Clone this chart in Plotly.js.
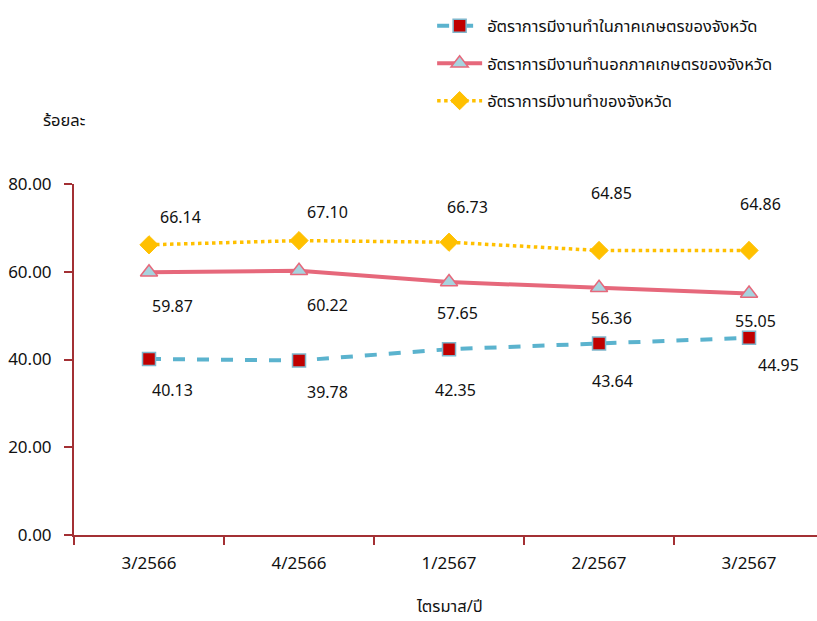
<!DOCTYPE html>
<html>
<head>
<meta charset="utf-8">
<script src="https://cdn.plot.ly/plotly-3.0.1.min.js"></script>
<style>html,body{margin:0;padding:0;background:#fff;}#chart{width:817px;height:621px;}</style>
</head>
<body>
<div id="chart"></div>
<script>
const categories = ["3/2566", "4/2566", "1/2567", "2/2567", "3/2567"];
const agriRate = [40.13, 39.78, 42.35, 43.64, 44.95];
const nonAgriRate = [59.87, 60.22, 57.65, 56.36, 55.05];
const totalRate = [66.14, 67.10, 66.73, 64.85, 64.86];
const seriesNames = [
  "อัตราการมีงานทำในภาคเกษตรของจังหวัด",
  "อัตราการมีงานทำนอกภาคเกษตรของจังหวัด",
  "อัตราการมีงานทำของจังหวัด"
];
const yTitle = "ร้อยละ";
const xTitle = "ไตรมาส/ปี";

// label offsets in pixels (style only)
const agriOffsets = [[23,32],[28,33],[6,42],[13,38],[29,28]];
const nonAgriOffsets = [[23,35],[28,35],[8,32],[12,31],[6,29]];
const totalOffsets = [[31,-27],[28,-28],[18,-34],[12,-56],[11,-45]];

const FONT = "Tahoma, 'Noto Sans Thai', 'Noto Sans', 'DejaVu Sans', sans-serif";
const axisColor = "#A33034";

const traces = [
  {
    x: categories, y: agriRate, name: seriesNames[0], type: "scatter", mode: "lines+markers",
    legendgroup: "a",
    line: {color: "#5BB3CE", width: 4, dash: "dash"},
    marker: {symbol: "square", size: 13, color: "#C00000", line: {color: "#7FB6CC", width: 1.5}}
  },
  {
    x: categories, y: nonAgriRate, name: seriesNames[1], type: "scatter", mode: "lines+markers",
    legendgroup: "b",
    line: {color: "#E6687B", width: 4},
    marker: {symbol: "triangle-up", size: 15, color: "#A6D3DE", line: {color: "#E6687B", width: 1.5}}
  },
  {
    x: categories, y: totalRate, name: seriesNames[2], type: "scatter", mode: "lines+markers",
    legendgroup: "c",
    line: {color: "#FFC000", width: 3.5, dash: "dot"},
    marker: {symbol: "diamond", size: 14, color: "#FFC000", line: {color: "#FFC000", width: 1}}
  }
];

const annotations = [];
function addLabels(vals, offs) {
  vals.forEach((v, i) => {
    annotations.push({
      x: categories[i], y: v, xref: "x", yref: "y", text: v.toFixed(2),
      showarrow: false, xshift: offs[i][0], yshift: -offs[i][1],
      font: {family: FONT, size: 16, color: "#111"}
    });
  });
}
addLabels(agriRate, agriOffsets);
addLabels(nonAgriRate, nonAgriOffsets);
addLabels(totalRate, totalOffsets);

annotations.push({
  text: yTitle, xref: "paper", yref: "paper", x: -0.013, y: 1.182, xanchor: "center", yanchor: "middle",
  showarrow: false, font: {family: FONT, size: 16.5, color: "#111"}
});
annotations.push({
  text: xTitle, xref: "x", yref: "paper", x: 2, y: -0.205, xanchor: "center", yanchor: "middle",
  showarrow: false, font: {family: FONT, size: 16.5, color: "#111"}
});

const layout = {
  width: 817, height: 621,
  margin: {l: 74, r: 0, t: 184, b: 86},
  paper_bgcolor: "#fff", plot_bgcolor: "#fff",
  font: {family: FONT, size: 15, color: "#111"},
  showlegend: true,
  legend: {
    x: 0.482, y: 1.5, xanchor: "left", yanchor: "top",
    font: {family: FONT, size: 16.5, color: "#111"},
    itemwidth: 45,
    tracegroupgap: 13, bgcolor: "rgba(0,0,0,0)"
  },
  xaxis: {
    type: "category", range: [-0.5, 4.453],
    showline: true, linecolor: axisColor, linewidth: 2,
    ticks: "outside", tickson: "boundaries", ticklen: 8, tickcolor: axisColor, tickwidth: 2,
    ticklabelstandoff: 12,
    showgrid: false, zeroline: false,
    tickfont: {family: FONT, size: 17, color: "#111"}
  },
  yaxis: {
    range: [0, 80], tickvals: [0, 20, 40, 60, 80], tickformat: ".2f",
    showline: true, linecolor: axisColor, linewidth: 2,
    ticks: "outside", ticklen: 8, tickcolor: axisColor, tickwidth: 2,
    ticklabelstandoff: 9,
    showgrid: false, zeroline: false,
    tickfont: {family: FONT, size: 17, color: "#111"}
  },
  annotations: annotations
};

Plotly.newPlot("chart", traces, layout, {displayModeBar: false, staticPlot: true});
</script>
</body>
</html>
